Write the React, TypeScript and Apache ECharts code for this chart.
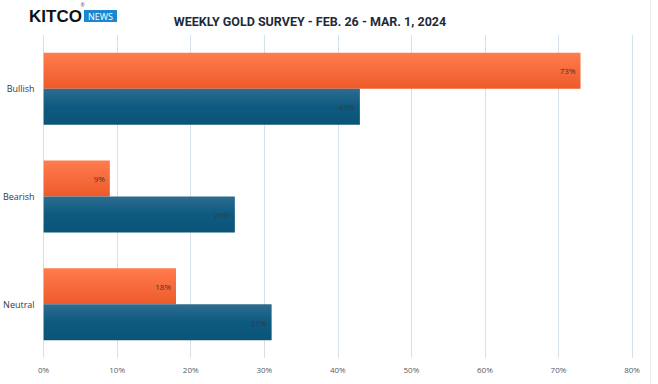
import React, { useEffect, useRef } from "react";
import * as echarts from "echarts";

const categories = ["Bullish", "Bearish", "Neutral"];
const wallStreet = [73, 9, 18];
const mainStreet = [43, 26, 31];
const xTicks = [0, 10, 20, 30, 40, 50, 60, 70, 80];

export default function App() {
  const ref = useRef<HTMLDivElement>(null);
  useEffect(() => {
    if (!ref.current) return;
    const chart = echarts.init(ref.current, null, { renderer: "svg" });
    const orange = new echarts.graphic.LinearGradient(0, 0, 0, 1, [
      { offset: 0, color: "#FF7C4E" },
      { offset: 1, color: "#EE5A2A" },
    ]);
    const blue = new echarts.graphic.LinearGradient(0, 0, 0, 1, [
      { offset: 0, color: "#2E6C90" },
      { offset: 0.5, color: "#0D5A80" },
      { offset: 1, color: "#0B5478" },
    ]);
    const labelStyle = {
      show: true,
      position: "insideRight" as const,
      formatter: "{c}%",
      color: "#3a3a3a",
      fontSize: 8,
      fontFamily: "Open Sans",
      distance: 5,
    };
    chart.setOption({
      animation: false,
      backgroundColor: "#ffffff",
      grid: { left: 43, right: 26, top: 35, bottom: 26 },
      xAxis: {
        type: "value",
        min: 0,
        max: 80,
        interval: 10,
        axisLine: { show: false },
        axisTick: { show: false },
        splitLine: { show: true, lineStyle: { color: "#d5e1ea", width: 1 } },
        axisLabel: {
          formatter: (v: number) => (xTicks.includes(v) ? v + "%" : ""),
          color: "#555b66",
          fontSize: 8,
          fontFamily: "Open Sans",
          margin: 7,
        },
      },
      yAxis: {
        type: "category",
        data: categories,
        inverse: true,
        axisLine: { show: false },
        axisTick: { show: false },
        splitLine: { show: false },
        axisLabel: {
          color: "#333a44",
          fontSize: 9,
          fontFamily: "Open Sans",
          margin: 9,
        },
      },
      series: [
        {
          type: "bar",
          data: wallStreet,
          barWidth: 36,
          barGap: "0%",
          itemStyle: { color: orange },
          label: labelStyle,
        },
        {
          type: "bar",
          data: mainStreet,
          barWidth: 36,
          barGap: "0%",
          itemStyle: { color: blue },
          label: labelStyle,
        },
      ],
      graphic: [
        {
          type: "text",
          x: 29,
          y: 16.5,
          style: {
            text: "KITCO",
            fill: "#111111",
            font: "bold 17px 'Liberation Sans'",
            verticalAlign: "middle",
          },
        },
        {
          type: "text",
          x: 82.5,
          y: 5,
          style: {
            text: "®",
            fill: "#555",
            font: "5px 'Open Sans'",
            align: "center",
            verticalAlign: "middle",
          },
        },
        {
          type: "rect",
          shape: { x: 84, y: 10, width: 33, height: 12 },
          style: { fill: "#1B87CF" },
        },
        {
          type: "text",
          x: 100.5,
          y: 16.5,
          style: {
            text: "NEWS",
            fill: "#ffffff",
            font: "9px 'Open Sans'",
            align: "center",
            verticalAlign: "middle",
          },
        },
        {
          type: "text",
          x: 310,
          y: 21,
          style: {
            text: "WEEKLY GOLD SURVEY - FEB. 26 - MAR. 1, 2024",
            fill: "#1e2b3a",
            font: "bold 12.5px 'Roboto'",
            align: "center",
            verticalAlign: "middle",
          },
        },
        {
          type: "line",
          shape: { x1: 650.5, y1: 0, x2: 650.5, y2: 384 },
          style: { stroke: "#eeeeee", lineWidth: 1 },
        },
      ],
    });
    return () => chart.dispose();
  }, []);
  return (
    <div
      ref={ref}
      style={{ width: 658, height: 384, position: "absolute", left: 0, top: 0 }}
    />
  );
}
